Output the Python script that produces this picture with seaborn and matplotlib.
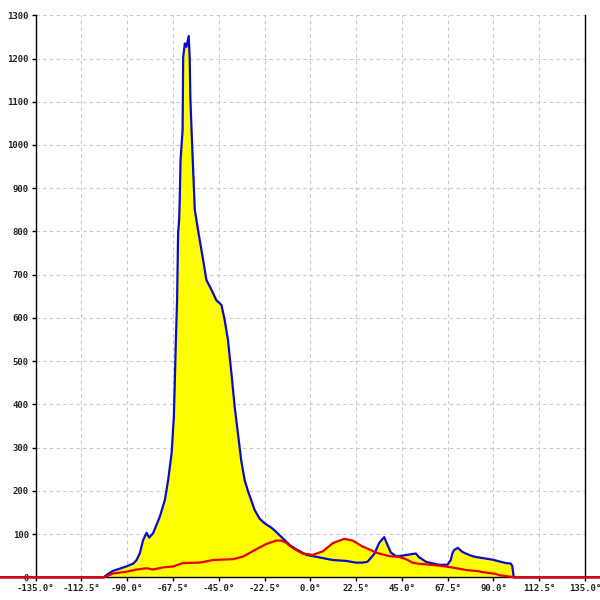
import numpy as np
import pandas as pd
import matplotlib
matplotlib.use("Agg")
import matplotlib.pyplot as plt
import seaborn as sns

# angle (deg) / value pairs
blue_x = [-180, -101.5, -100, -97, -93, -90, -87, -85.4, -83.8, -82.2, -80.5, -79.2, -77.3,
          -74, -71.5, -69.9, -68.2, -67.1, -66.6, -66.1, -65.5, -65, -64.5, -64.2, -63.8,
          -62.8, -62.5, -61.7, -60.9, -59.8, -59.3, -59.0, -58.4, -57.6, -56.8, -55.2, -52.7,
          -51.1, -48.6, -46.2, -43.7, -42.1, -40.5, -38.8, -37.2, -35.6, -34, -32.3, -30.7,
          -29.1, -27.4, -25, -22.5, -19.2, -16.8, -13.5, -10.2, -7, -2, 4.5, 11, 17.5, 22.4,
          25.7, 28.1, 31.4, 33.9, 36.3, 37.9, 39.6, 42.1, 43.7, 47.7, 50.2, 51.9, 53.5, 54.3,
          56.8, 58.4, 63.3, 67.4, 69.0, 69.8, 70.6, 72.5, 74.7, 76.4, 79.6, 81.3, 89.4, 96,
          98.4, 99.2, 100, 180]
blue_y = [0, 0, 6, 15, 21, 26, 32, 40, 56, 86, 103, 92, 102,
          140, 179, 225, 287, 371, 456, 549, 641, 796, 826, 873, 965,
          1034, 1204, 1235, 1227, 1252, 1200, 1112, 1035, 942, 850, 803, 734,
          688, 665, 641, 630, 595, 549, 472, 395, 333, 271, 225, 200,
          179, 156, 136, 125, 115, 105, 90, 75, 65, 52, 46, 40, 38, 34,
          34, 36, 54, 80, 93, 75, 57, 49, 49, 52, 54, 55, 46, 44,
          36, 34, 29, 29, 40, 55, 63, 68, 59, 55, 49, 47, 41, 33,
          32, 27, 0, 0]

red_x = [-180, -101.5, -101, -96.9, -90.3, -85.4, -80.5, -77.3, -72.4, -67.5, -62.6, -54.4,
         -47.8, -38, -33.1, -31.5, -26.6, -21.7, -16.8, -14.5, -11.9, -10.2, -7, -3.7, 1.2,
         6.1, 11, 12.6, 16.7, 20.8, 25.7, 27.4, 32.3, 33.9, 38.8, 43.7, 47, 50.2, 53.5, 56.8,
         63.3, 66.6, 73.1, 76.4, 82.9, 84.5, 91.1, 92.7, 99.2, 100, 180]
red_y = [0, 0, 1, 9, 13, 18, 21, 18, 23, 25, 33, 34,
         40, 42, 48, 52, 65, 77, 85, 85, 80, 73, 63, 55, 52,
         60, 79, 82, 89, 85, 71, 68, 57, 55, 49, 47, 42, 34, 31, 30,
         27, 25, 20, 17, 14, 12, 8, 5, 1, 0, 0]

x_ticks = [-135.0, -112.5, -90.0, -67.5, -45.0, -22.5, 0.0, 22.5, 45.0, 67.5, 90.0, 112.5, 135.0]
y_ticks = list(range(0, 1301, 100))

sns.set_theme(style="white")
plt.rcParams['font.family'] = ['DejaVu Sans Mono', 'DejaVu Sans']

fig = plt.figure(figsize=(6, 6), dpi=100)
ax = fig.add_axes([0.0595, 0.0378, 0.9155, 0.9367])

blue = pd.DataFrame({'angle': blue_x, 'value': blue_y})
red = pd.DataFrame({'angle': red_x, 'value': red_y})

ax.fill_between(blue['angle'], blue['value'], color='#ffff00', lw=0, zorder=1)
ax.fill_between(red['angle'], red['value'], color='#ffff00', lw=0, zorder=1)
sns.lineplot(data=blue, x='angle', y='value', estimator=None, color='#0a0ad0', lw=1.6, ax=ax, zorder=3)
sns.lineplot(data=red, x='angle', y='value', estimator=None, color='#e80000', lw=1.6, ax=ax, zorder=4)
for ln in ax.lines:
    ln.set_clip_on(False)

ax.set_xlim(-135, 135)
ax.set_ylim(0, 1300)
ax.set_xticks(x_ticks)
ax.set_xticklabels([f"{t:.1f}°" for t in x_ticks])
ax.set_yticks(y_ticks)
ax.set_yticklabels([str(t) for t in y_ticks])
ax.set_xlabel("")
ax.set_ylabel("")

ax.grid(True, color='#c8c8c8', linestyle=(0, (3, 3)), linewidth=0.8)
ax.set_axisbelow(True)
ax.tick_params(axis='both', which='major', direction='out', length=3, width=1,
               color='black', labelsize=6.5, pad=2, bottom=True, left=True)
for lab in ax.get_xticklabels() + ax.get_yticklabels():
    lab.set_fontweight('bold')
    lab.set_color('#222222')

ax.spines['top'].set_visible(False)
for s in ['left', 'right', 'bottom']:
    ax.spines[s].set_color('black')
    ax.spines[s].set_linewidth(1.0)

fig.savefig("out.png", dpi=100, facecolor='white')
